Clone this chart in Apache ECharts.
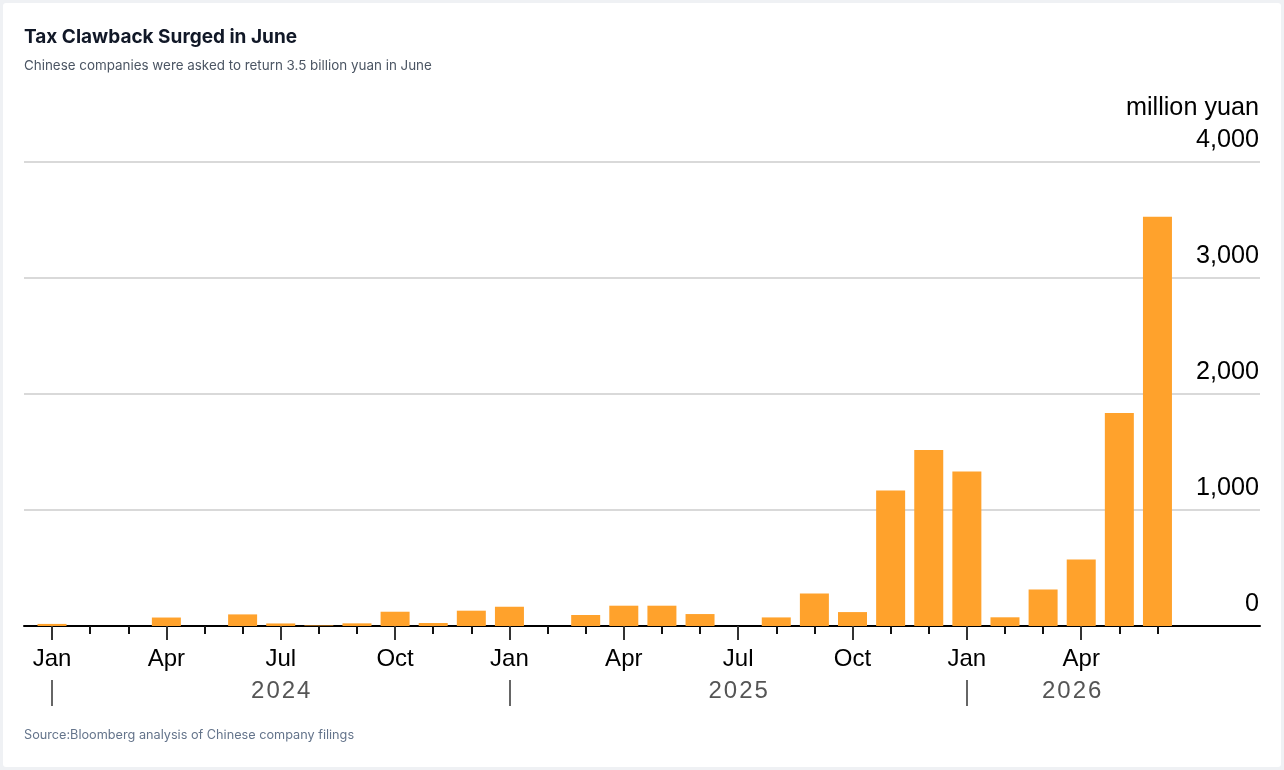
<!DOCTYPE html>
<html>
<head>
<meta charset="utf-8">
<title>Tax Clawback Surged in June</title>
<script src="https://cdn.jsdelivr.net/npm/echarts@6/dist/echarts.min.js"></script>
<style>
  html, body { margin: 0; padding: 0; width: 1284px; height: 770px; background: #eff1f4; overflow: hidden; }
  #card { position: absolute; left: 3px; top: 3px; right: 3px; bottom: 3px; background: #fff; border-radius: 3px; }
  #chart { position: absolute; left: 0; top: 0; width: 1284px; height: 770px; }
</style>
</head>
<body>
<div id="card"></div>
<div id="chart"></div>
<script>
// months from Jan 2024 to Jun 2026
var periods = [
  "2024-01","2024-02","2024-03","2024-04","2024-05","2024-06",
  "2024-07","2024-08","2024-09","2024-10","2024-11","2024-12",
  "2025-01","2025-02","2025-03","2025-04","2025-05","2025-06",
  "2025-07","2025-08","2025-09","2025-10","2025-11","2025-12",
  "2026-01","2026-02","2026-03","2026-04","2026-05","2026-06"
];

// million yuan
var clawback = [
  18, 0, 0, 73, 0, 100, 22, 5, 23, 123, 26, 132,
  166, 0, 95, 175, 175, 103, 0, 74, 281, 120, 1168, 1518,
  1332, 75, 315, 573, 1836, 3528
];

var monthNames = ["Jan","Feb","Mar","Apr","May","Jun","Jul","Aug","Sep","Oct","Nov","Dec"];
var yearLabels = ["2024","2025","2026"];
var yTicks = [0, 1000, 2000, 3000, 4000];

var barData = [];
for (var i = 0; i < periods.length; i++) {
  barData.push([i, clawback[i]]);
}

var monthTicks = [];
for (var i = 0; i < periods.length; i++) {
  monthTicks.push(i);
}

var quarterTicks = [];
for (var i = 0; i < periods.length; i += 3) {
  quarterTicks.push(i);
}

var yearTicks = [0, 12, 24];
// centre of each year's span on the axis
var yearCentres = [6, 18, 26.75];

var xMin = -0.735;
var xMax = 31.69;

var chart = echarts.init(document.getElementById("chart"));

var option = {
  animation: false,

  title: [
    {
      text: "Tax Clawback Surged in June",
      left: 24,
      top: 28,
      padding: 0,
      textStyle: {
        fontFamily: "Inter",
        fontSize: 19,
        fontWeight: "bold",
        color: "#111827"
      }
    },
    {
      text: "Chinese companies were asked to return 3.5 billion yuan in June",
      left: 24,
      top: 59,
      padding: 0,
      textStyle: {
        fontFamily: "Inter",
        fontSize: 13.4,
        fontWeight: "normal",
        color: "#4b5563"
      }
    },
    {
      text: "Source:Bloomberg analysis of Chinese company filings",
      left: 24,
      top: 729,
      padding: 0,
      textStyle: {
        fontFamily: "Inter",
        fontSize: 12.7,
        fontWeight: "normal",
        color: "#64748b"
      }
    }
  ],

  grid: {
    left: 24,
    right: 24,
    top: 162,
    bottom: 144
  },

  xAxis: [
    {
      type: "value",
      position: "bottom",
      min: xMin,
      max: xMax,
      axisLine: { show: true, onZero: false, lineStyle: { color: "#000", width: 2 } },
      axisTick: { show: true, customValues: monthTicks, length: 8, lineStyle: { color: "#111", width: 2 } },
      axisLabel: { show: false },
      splitLine: { show: false }
    },
    {
      type: "value",
      position: "bottom",
      offset: 0,
      min: xMin,
      max: xMax,
      axisLine: { show: false, onZero: false },
      axisTick: { show: true, customValues: quarterTicks, length: 14, lineStyle: { color: "#333", width: 2 } },
      axisLabel: {
        show: true,
        customValues: quarterTicks,
        margin: 21,
        fontFamily: "Liberation Sans",
        fontSize: 24,
        color: "#000",
        formatter: function (v) {
          return monthNames[Math.round(v) % 12];
        }
      },
      splitLine: { show: false }
    },
    {
      type: "value",
      position: "bottom",
      offset: 54,
      min: xMin,
      max: xMax,
      axisLine: { show: false, onZero: false },
      axisTick: { show: true, customValues: yearTicks, length: 26, lineStyle: { color: "#666", width: 2 } },
      axisLabel: {
        show: true,
        customValues: yearCentres,
        margin: -1,
        fontFamily: "Liberation Sans",
        fontSize: 24,
        color: "#555",
        formatter: function (v) {
          return yearLabels[Math.floor(v / 12)].split("").join("\u200a");
        }
      },
      splitLine: { show: false }
    }
  ],

  yAxis: [
    {
      type: "value",
      position: "right",
      min: yTicks[0],
      max: yTicks[yTicks.length - 1],
      interval: 1000,
      axisLine: { show: false },
      axisTick: { show: false },
      splitLine: { show: true, lineStyle: { color: "#cccccc", width: 1.5 } },
      axisLabel: {
        inside: true,
        margin: 1,
        fontFamily: "Liberation Sans",
        fontSize: 25.2,
        lineHeight: 32,
        color: "#000",
        verticalAlign: "bottom",
        padding: [0, 0, 6, 0],
        formatter: function (v) {
          var s = v.toLocaleString("en-US");
          if (v === yTicks[yTicks.length - 1]) {
            return "million yuan\n" + s;
          }
          return s;
        }
      }
    }
  ],

  series: [
    {
      type: "bar",
      xAxisIndex: 0,
      yAxisIndex: 0,
      barWidth: 29,
      itemStyle: {
        color: "#ffa22c"
      },
      data: barData
    }
  ]
};

chart.setOption(option);
</script>
</body>
</html>
